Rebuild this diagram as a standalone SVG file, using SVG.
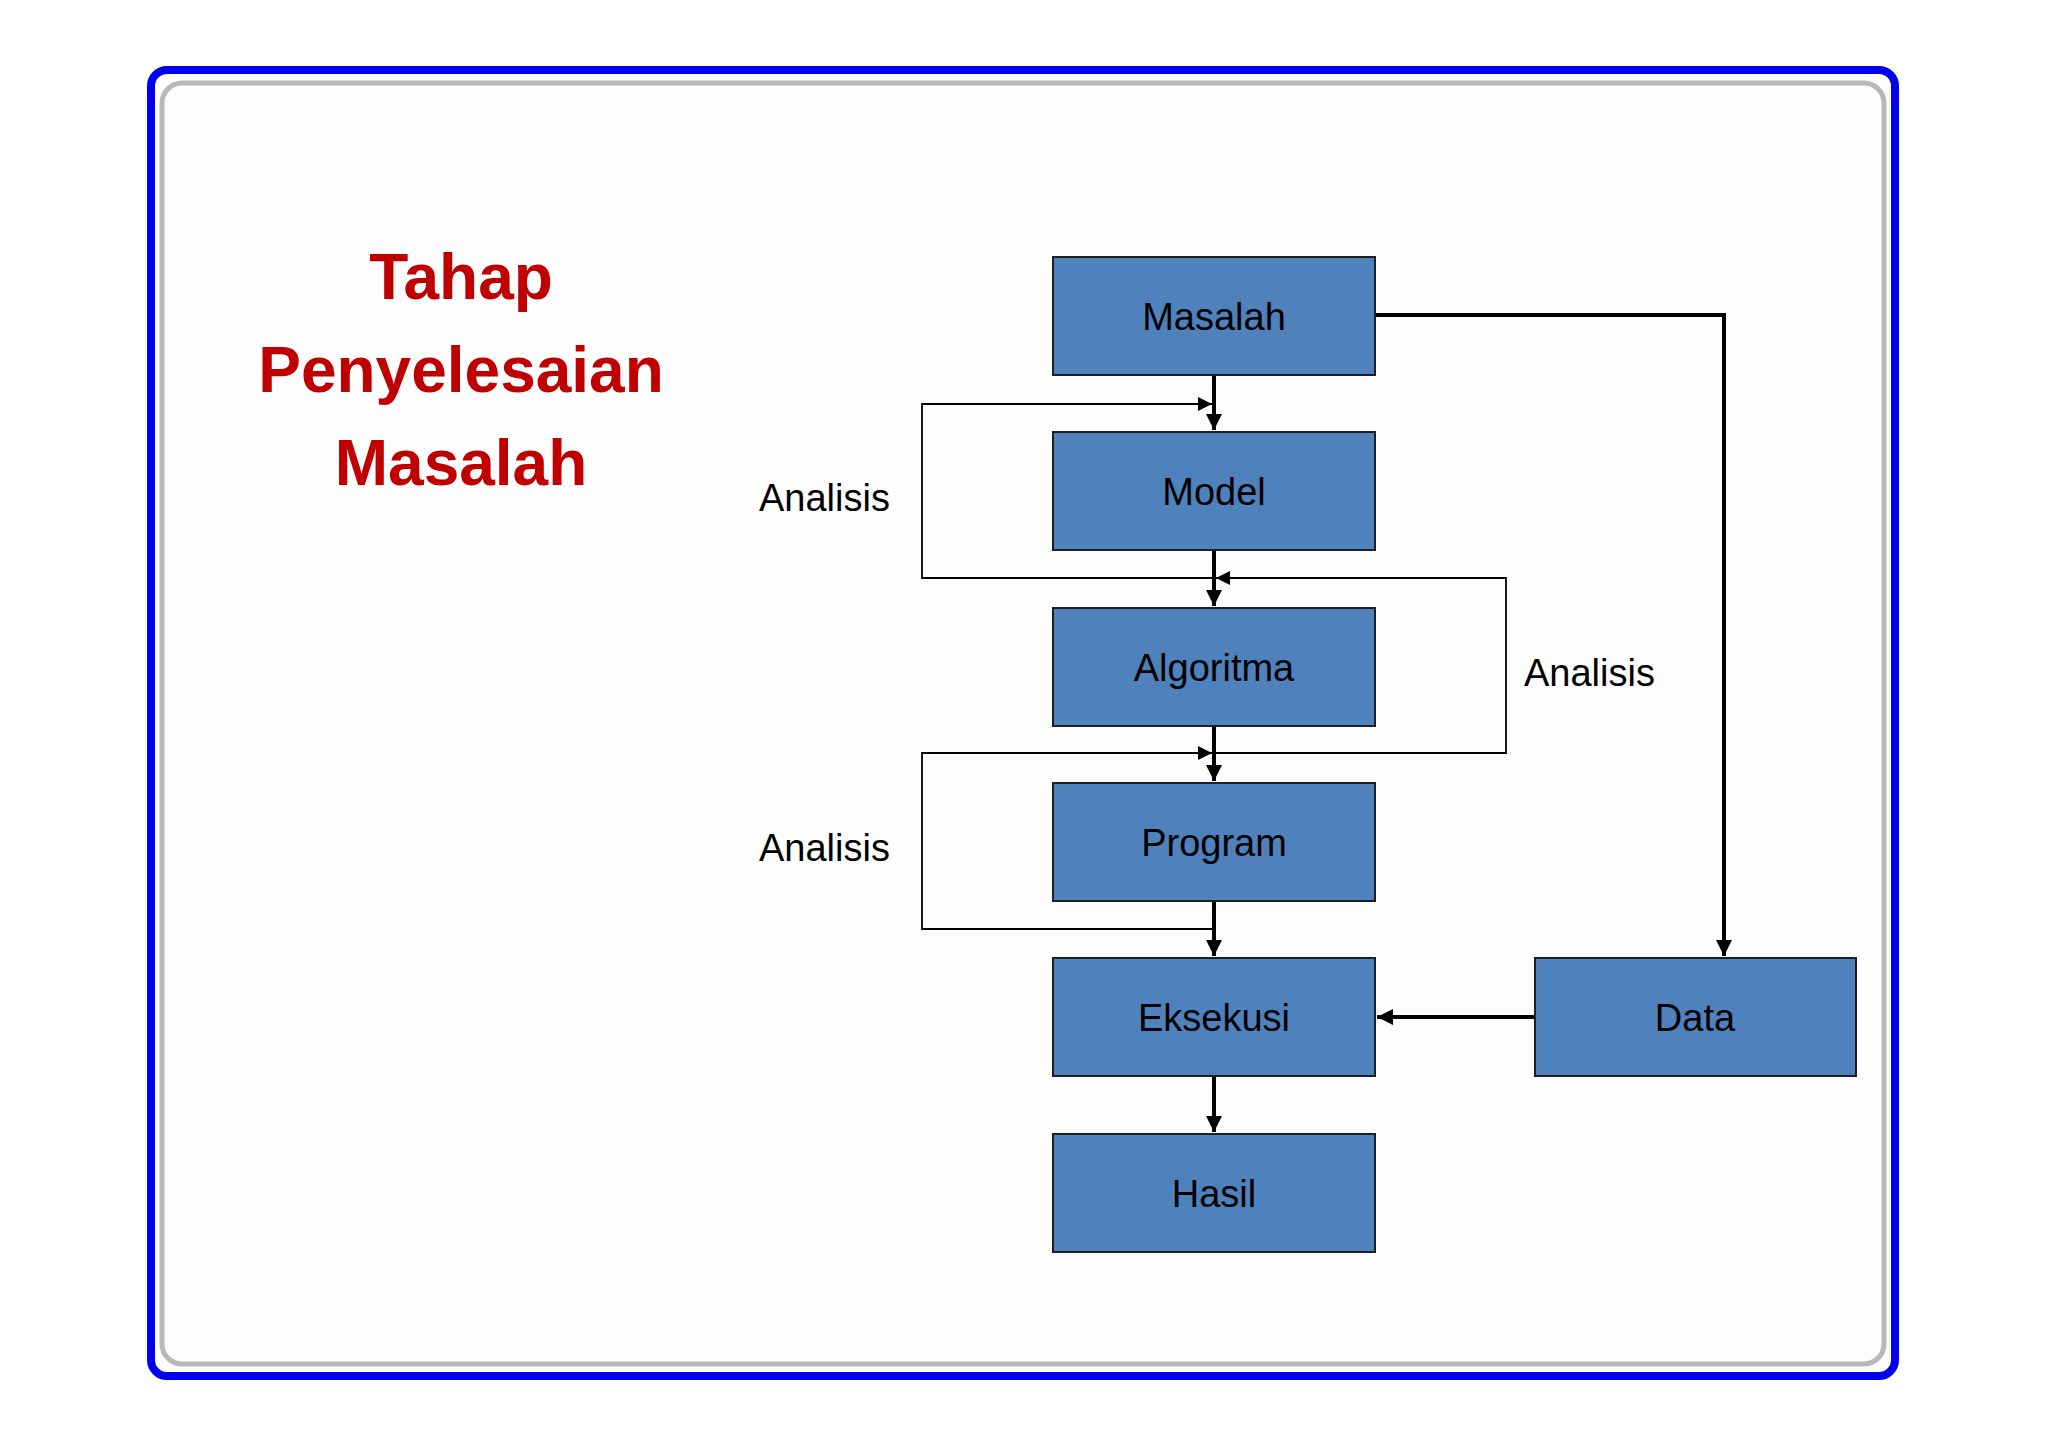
<svg xmlns="http://www.w3.org/2000/svg" width="2048" height="1449" viewBox="0 0 2048 1449">
<style>
.box{fill:#4F81BD;stroke:#1F1F1F;stroke-width:2}
.bl{font-family:"Liberation Sans",Arial,sans-serif;font-size:38px;fill:#000;text-anchor:middle}
.an{font-family:"Liberation Sans",Arial,sans-serif;font-size:38px;fill:#000}
.ti{font-family:"Liberation Sans",Arial,sans-serif;font-size:64px;font-weight:bold;fill:#C00000;text-anchor:middle}
.thick{fill:none;stroke:#000;stroke-width:4}
.thin{fill:none;stroke:#000;stroke-width:1.8}
</style>
<defs>
<marker id="ah" viewBox="0 0 10 10" refX="10" refY="5" markerWidth="4" markerHeight="4" orient="auto" markerUnits="strokeWidth"><path d="M0,0L10,5L0,10z" fill="#000"/></marker>
<marker id="at" viewBox="0 0 10 10" refX="10" refY="5" markerWidth="8" markerHeight="8" orient="auto" markerUnits="strokeWidth"><path d="M0,0L10,5L0,10z" fill="#000"/></marker>
</defs>
<rect width="2048" height="1449" fill="#fff"/>
<rect x="151" y="70" width="1744" height="1306" rx="16" fill="#fff" stroke="#0000EE" stroke-width="8"/>
<rect x="162" y="83" width="1722" height="1281" rx="20" fill="#fdfdfd" stroke="#b8b8b8" stroke-width="5"/>
<g id="title">
<text class="ti" x="461" y="299">Tahap</text>
<text class="ti" x="461" y="392">Penyelesaian</text>
<text class="ti" x="461" y="485">Masalah</text>
</g>
<g id="connectors">
<path class="thick" d="M1214,375V430" marker-end="url(#ah)"/>
<path class="thick" d="M1214,550V606" marker-end="url(#ah)"/>
<path class="thick" d="M1214,726V781" marker-end="url(#ah)"/>
<path class="thick" d="M1214,901V956" marker-end="url(#ah)"/>
<path class="thick" d="M1214,1076V1132" marker-end="url(#ah)"/>
<path class="thick" d="M1375,315H1724V956" marker-end="url(#ah)"/>
<path class="thick" d="M1534,1017H1377" marker-end="url(#ah)"/>
<path class="thin" d="M1214,578H922V404H1212" marker-end="url(#at)"/>
<path class="thin" d="M1214,753H1506V578H1216" marker-end="url(#at)"/>
<path class="thin" d="M1214,929H922V753H1212" marker-end="url(#at)"/>
</g>
<g id="masalah"><rect class="box" x="1053" y="257" width="322" height="118"/><text class="bl" x="1214" y="330">Masalah</text></g>
<g id="model"><rect class="box" x="1053" y="432" width="322" height="118"/><text class="bl" x="1214" y="505">Model</text></g>
<g id="algoritma"><rect class="box" x="1053" y="608" width="322" height="118"/><text class="bl" x="1214" y="681">Algoritma</text></g>
<g id="program"><rect class="box" x="1053" y="783" width="322" height="118"/><text class="bl" x="1214" y="856">Program</text></g>
<g id="eksekusi"><rect class="box" x="1053" y="958" width="322" height="118"/><text class="bl" x="1214" y="1031">Eksekusi</text></g>
<g id="hasil"><rect class="box" x="1053" y="1134" width="322" height="118"/><text class="bl" x="1214" y="1207">Hasil</text></g>
<g id="data"><rect class="box" x="1535" y="958" width="321" height="118"/><text class="bl" x="1695" y="1031">Data</text></g>
<g id="labels">
<text class="an" x="759" y="511">Analisis</text>
<text class="an" x="1524" y="686">Analisis</text>
<text class="an" x="759" y="861">Analisis</text>
</g>
</svg>
